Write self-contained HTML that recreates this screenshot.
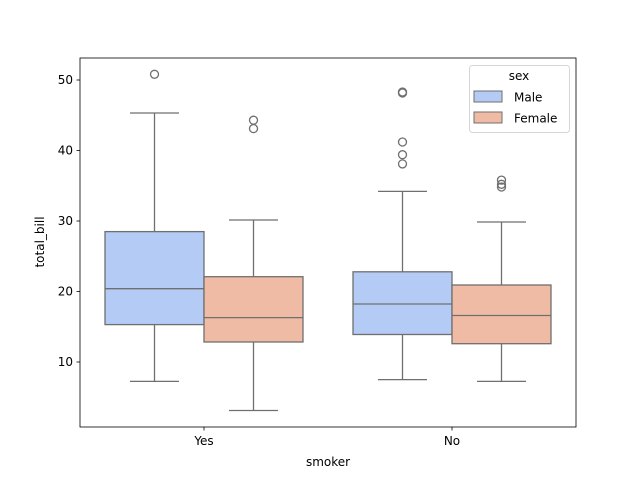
<!DOCTYPE html>
<html><head><style>body{margin:0;background:#fff}svg{display:block}</style></head><body>
<svg width="640" height="480" xmlns="http://www.w3.org/2000/svg" font-family="DejaVu Sans, Liberation Sans, sans-serif" font-size="12">
<rect width="640" height="480" fill="#fff"/>
<g stroke="#6f6f6f" stroke-width="1.3">
<!-- Yes Male -->
<line x1="154.5" y1="113" x2="154.5" y2="231.6"/><line x1="154.5" y1="324.6" x2="154.5" y2="381.4"/>
<line x1="130" y1="113" x2="179" y2="113"/><line x1="130" y1="381.4" x2="179" y2="381.4"/>
<rect x="105" y="231.6" width="99" height="93" fill="#b4cbf5"/>
<line x1="105" y1="288.7" x2="204" y2="288.7"/>
<circle cx="154.5" cy="74.3" r="4" fill="none"/>
<!-- Yes Female -->
<line x1="253.5" y1="220" x2="253.5" y2="276.7"/><line x1="253.5" y1="342" x2="253.5" y2="410.5"/>
<line x1="229" y1="220" x2="278" y2="220"/><line x1="229" y1="410.5" x2="278" y2="410.5"/>
<rect x="204" y="276.7" width="99" height="65.3" fill="#efbba4"/>
<line x1="204" y1="317.6" x2="303" y2="317.6"/>
<circle cx="253.5" cy="120.2" r="4" fill="none"/><circle cx="253.5" cy="128.6" r="4" fill="none"/>
<!-- No Male -->
<line x1="402.5" y1="191.4" x2="402.5" y2="271.8"/><line x1="402.5" y1="334.5" x2="402.5" y2="379.6"/>
<line x1="378" y1="191.4" x2="427" y2="191.4"/><line x1="378" y1="379.6" x2="427" y2="379.6"/>
<rect x="353" y="271.8" width="99" height="62.7" fill="#b4cbf5"/>
<line x1="353" y1="304" x2="452" y2="304"/>
<circle cx="402.5" cy="92" r="4" fill="none"/><circle cx="402.5" cy="93" r="4" fill="none"/>
<circle cx="402.5" cy="142" r="4" fill="none"/><circle cx="402.5" cy="154.7" r="4" fill="none"/><circle cx="402.5" cy="163.9" r="4" fill="none"/>
<!-- No Female -->
<line x1="501.5" y1="222" x2="501.5" y2="285"/><line x1="501.5" y1="343.7" x2="501.5" y2="381.4"/>
<line x1="477" y1="222" x2="526" y2="222"/><line x1="477" y1="381.4" x2="526" y2="381.4"/>
<rect x="452" y="285" width="99" height="58.7" fill="#efbba4"/>
<line x1="452" y1="315.5" x2="551" y2="315.5"/>
<circle cx="501.5" cy="180.1" r="4" fill="none"/><circle cx="501.5" cy="184.3" r="4" fill="none"/><circle cx="501.5" cy="187" r="4" fill="none"/>
</g>
<rect x="80" y="58" width="496" height="369" fill="none" stroke="#000" stroke-width="0.8"/>
<g stroke="#000" stroke-width="0.8">
<line x1="76.5" y1="362" x2="80" y2="362"/><line x1="76.5" y1="291.5" x2="80" y2="291.5"/>
<line x1="76.5" y1="221" x2="80" y2="221"/><line x1="76.5" y1="150.5" x2="80" y2="150.5"/>
<line x1="76.5" y1="80" x2="80" y2="80"/>
<line x1="204" y1="427" x2="204" y2="430.5"/><line x1="452" y1="427" x2="452" y2="430.5"/>
</g>
<g text-anchor="end" fill="#000">
<text x="73" y="366">10</text><text x="73" y="295.5">20</text><text x="73" y="225">30</text>
<text x="73" y="154.5">40</text><text x="73" y="84">50</text>
</g>
<g text-anchor="middle" fill="#000">
<text x="204" y="445">Yes</text><text x="452" y="445">No</text>
<text x="328" y="466">smoker</text>
<text transform="translate(44,242) rotate(-90)">total_bill</text>
</g>
<rect x="469.5" y="65.5" width="100" height="67" rx="3" fill="#fff" stroke="#d6d6d6"/>
<text x="519" y="80" text-anchor="middle">sex</text>
<rect x="474" y="91" width="28" height="11" fill="#b4cbf5" stroke="#6f6f6f"/>
<text x="514" y="101.5">Male</text>
<rect x="474" y="112" width="28" height="11" fill="#efbba4" stroke="#6f6f6f"/>
<text x="514" y="122.5">Female</text>
</svg>
</body></html>
